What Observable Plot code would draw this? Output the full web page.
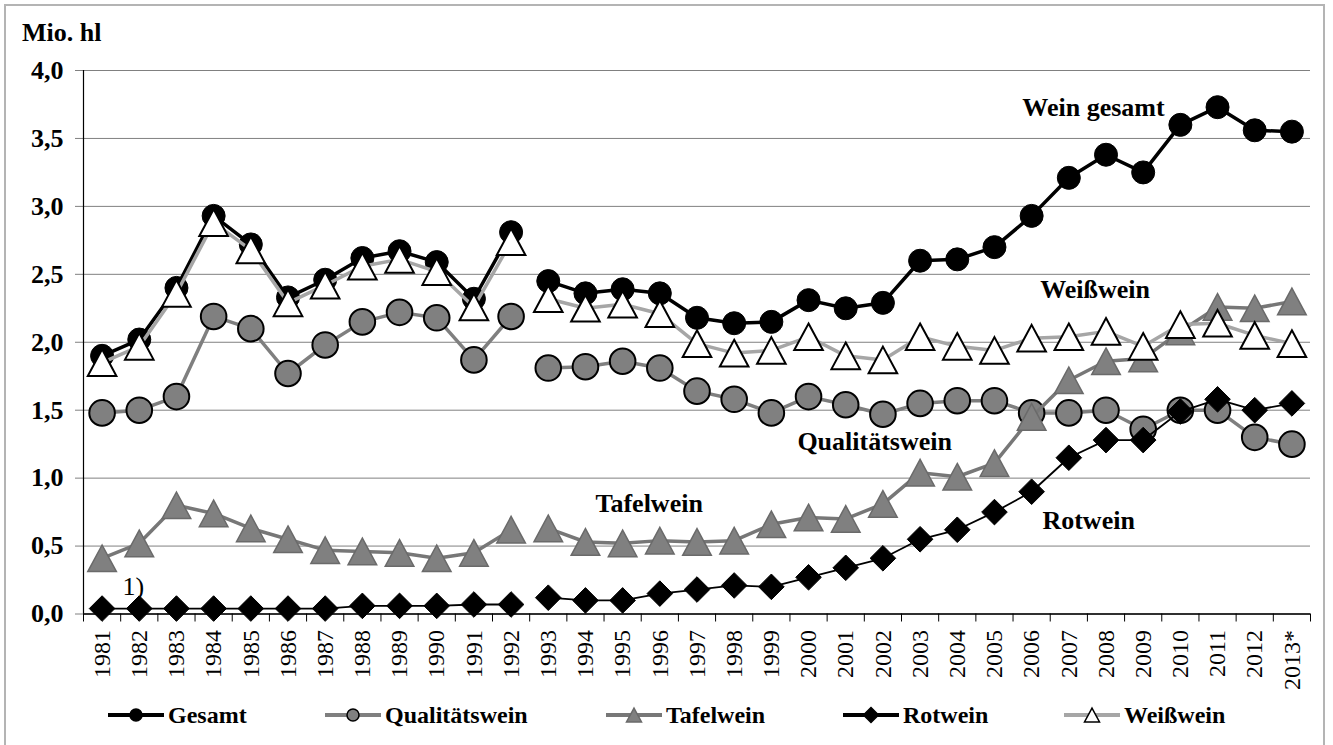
<!DOCTYPE html>
<html>
<head>
<meta charset="utf-8">
<script src="https://cdn.jsdelivr.net/npm/d3@7"></script>
<script src="https://cdn.jsdelivr.net/npm/@observablehq/plot@0.6"></script>
<style>
  html, body { margin: 0; padding: 0; background: #fff; }
  body { width: 1333px; height: 745px; position: relative; overflow: hidden; font-family: "Liberation Serif", "Times New Roman", serif; }
  #frame { position: absolute; left: 4px; top: 4px; width: 1321px; height: 760px; border: 2px solid #b4b4b4; box-sizing: border-box; }
  #unit { position: absolute; left: 22px; top: 18px; font-size: 26px; font-weight: bold; color: #000; }
  #chart { position: absolute; left: 0; top: 0; }
  .leg { position: absolute; top: 700px; height: 30px; display: flex; align-items: center; font-size: 24px; font-weight: bold; color: #000; white-space: nowrap; }
  .leg svg { margin-right: 4px; }
</style>
</head>
<body>
<div id="frame"></div>
<div id="chart"></div>
<div id="unit">Mio. hl</div>
<div id="legend"></div>
<script>
// ---- data (Mio. hl) ----
const yearLabels = ["1981","1982","1983","1984","1985","1986","1987","1988","1989","1990","1991","1992",
  "1993","1994","1995","1996","1997","1998","1999","2000","2001","2002","2003","2004","2005","2006",
  "2007","2008","2009","2010","2011","2012","2013*"];
const gesamt = [1.90,2.02,2.40,2.93,2.72,2.33,2.46,2.62,2.67,2.59,2.32,2.81,
  2.45,2.36,2.39,2.36,2.18,2.14,2.15,2.31,2.25,2.29,2.60,2.61,2.70,2.93,3.21,3.38,3.25,3.60,3.73,3.56,3.55];
const qualitaetswein = [1.48,1.50,1.60,2.19,2.10,1.77,1.98,2.15,2.22,2.18,1.87,2.19,
  1.81,1.82,1.86,1.81,1.64,1.58,1.48,1.60,1.54,1.47,1.55,1.57,1.57,1.48,1.48,1.50,1.36,1.50,1.50,1.30,1.25];
const tafelwein = [0.41,0.52,0.80,0.74,0.63,0.55,0.47,0.46,0.45,0.41,0.45,0.62,
  0.63,0.53,0.52,0.54,0.53,0.54,0.66,0.71,0.70,0.81,1.04,1.01,1.11,1.45,1.72,1.86,1.88,2.08,2.26,2.25,2.30];
const rotwein = [0.04,0.04,0.04,0.04,0.04,0.04,0.04,0.06,0.06,0.06,0.07,0.07,
  0.12,0.10,0.10,0.15,0.18,0.21,0.20,0.27,0.34,0.41,0.55,0.62,0.75,0.90,1.15,1.28,1.28,1.49,1.58,1.50,1.55];
const weisswein = [1.85,1.97,2.36,2.88,2.68,2.29,2.42,2.56,2.61,2.52,2.26,2.74,
  2.32,2.25,2.28,2.21,1.99,1.92,1.94,2.04,1.90,1.87,2.04,1.97,1.94,2.03,2.04,2.08,1.97,2.13,2.14,2.05,1.99];
const yTicks = [0, 0.5, 1, 1.5, 2, 2.5, 3, 3.5, 4];
const breakAfterYear = 1992; // series lines are interrupted between 1992 and 1993
const seriesLabels = [
  {text: "Wein gesamt",   x: 2005.75, y: 3.725},
  {text: "Weißwein",      x: 2006.23, y: 2.384},
  {text: "Qualitätswein", x: 1999.70, y: 1.265},
  {text: "Tafelwein",     x: 1994.27, y: 0.811},
  {text: "Rotwein",       x: 2006.29, y: 0.689}
];
const footnotes = [{text: "1)", x: 1981.55, y: 0.203}];

// ---- derived ----
const yearNums = yearLabels.map(s => parseInt(s, 10));
const xDomain = [yearNums[0] - 0.5, yearNums[yearNums.length - 1] + 0.5];
const boundaries = d3.range(xDomain[0], xDomain[1] + 0.01, 1);
const fmt = d => d.toFixed(1).replace(".", ",");

const triangleSym = {draw(ctx, size) { const r = Math.sqrt(size / Math.PI); const h = r * 0.93;
  ctx.moveTo(0, -h); ctx.lineTo(r, h); ctx.lineTo(-r, h); ctx.closePath(); }};
const diamondSym = {draw(ctx, size) { const r = Math.sqrt(size / Math.PI);
  ctx.moveTo(0, -r); ctx.lineTo(r, 0); ctx.lineTo(0, r); ctx.lineTo(-r, 0); ctx.closePath(); }};

const series = [
  {name: "Gesamt", values: gesamt, line: "#000", lw: 3.5, symbol: "circle", r: 11.5, fill: "#000", stroke: "#000", sw: 1},
  {name: "Qualitätswein", values: qualitaetswein, line: "#7f7f7f", lw: 3.5, symbol: "circle", r: 12.8, fill: "#808080", stroke: "#000", sw: 2},
  {name: "Tafelwein", values: tafelwein, line: "#777", lw: 3.5, symbol: triangleSym, r: 14.3, fill: "#808080", stroke: "#6a6a6a", sw: 1.5},
  {name: "Rotwein", values: rotwein, line: "#000", lw: 1.8, symbol: diamondSym, r: 12.8, fill: "#000", stroke: "#000", sw: 1},
  {name: "Weißwein", values: weisswein, line: "#a6a6a6", lw: 3.5, symbol: triangleSym, r: 14.3, fill: "#fff", stroke: "#000", sw: 2}
];

const seriesMarks = series.flatMap(s => {
  const rows = s.values.map((v, i) => ({year: yearNums[i], value: v, seg: yearNums[i] <= breakAfterYear ? 0 : 1}));
  return [
    Plot.line(rows, {x: "year", y: "value", z: "seg", stroke: s.line, strokeWidth: s.lw, strokeLinejoin: "round"}),
    Plot.dot(rows, {x: "year", y: "value", symbol: s.symbol, r: s.r, fill: s.fill, stroke: s.stroke, strokeWidth: s.sw})
  ];
});

const chart = Plot.plot({
  width: 1333,
  height: 700,
  marginLeft: 83,
  marginRight: 23,
  marginTop: 70,
  marginBottom: 86.5,
  style: {fontFamily: "'Liberation Serif', 'Times New Roman', serif", background: "transparent", color: "#000", overflow: "visible"},
  x: {domain: xDomain},
  y: {domain: [0, 4]},
  marks: [
    Plot.gridY(yTicks, {stroke: "#808080", strokeOpacity: 1, strokeWidth: 1}),
    Plot.axisY({ticks: yTicks, tickFormat: fmt, tickSize: 8, tickPadding: 12, fontSize: 26, fontWeight: "bold", label: null, stroke: "#808080", fill: "#000"}),
    Plot.axisX({ticks: boundaries, tickSize: 8, tickFormat: () => "", label: null, stroke: "#000"}),
    Plot.axisX({ticks: yearNums, tickFormat: d => yearLabels[yearNums.indexOf(d)], tickRotate: -90, tickSize: 0, tickPadding: 16, fontSize: 24, label: null, fill: "#000"}),
    Plot.ruleX([xDomain[0]], {stroke: "#000", strokeWidth: 1.2}),
    Plot.ruleY([0], {stroke: "#000", strokeWidth: 1.5}),
    ...seriesMarks,
    Plot.text(seriesLabels, {x: "x", y: "y", text: "text", textAnchor: "start", lineAnchor: "middle",
      fontSize: 26, fontWeight: "bold", fill: "#000"}),
    Plot.text(footnotes, {x: "x", y: "y", text: "text", textAnchor: "start", lineAnchor: "middle",
      fontSize: 26, fontWeight: "normal", fill: "#000"})
  ]
});
document.getElementById("chart").appendChild(chart);

// ---- legend ----
const legendLeft = [108, 325, 606, 843, 1064];
const legend = document.getElementById("legend");
series.forEach((s, k) => {
  const item = document.createElement("div");
  item.className = "leg";
  item.style.left = legendLeft[k] + "px";
  const svg = d3.create("svg").attr("width", 56).attr("height", 30);
  svg.append("line").attr("x1", 0).attr("x2", 56).attr("y1", 15).attr("y2", 15)
    .attr("stroke", s.line).attr("stroke-width", 4);
  let path;
  if (s.symbol === "circle") path = d3.symbol(d3.symbolCircle, Math.PI * 6 * 6)();
  else path = d3.symbol(s.symbol, Math.PI * 7.5 * 7.5)();
  svg.append("path").attr("d", path).attr("transform", "translate(28,15)")
    .attr("fill", s.fill).attr("stroke", s.stroke).attr("stroke-width", 1.5);
  item.appendChild(svg.node());
  const t = document.createElement("span");
  t.textContent = s.name;
  item.appendChild(t);
  legend.appendChild(item);
});
</script>
</body>
</html>
